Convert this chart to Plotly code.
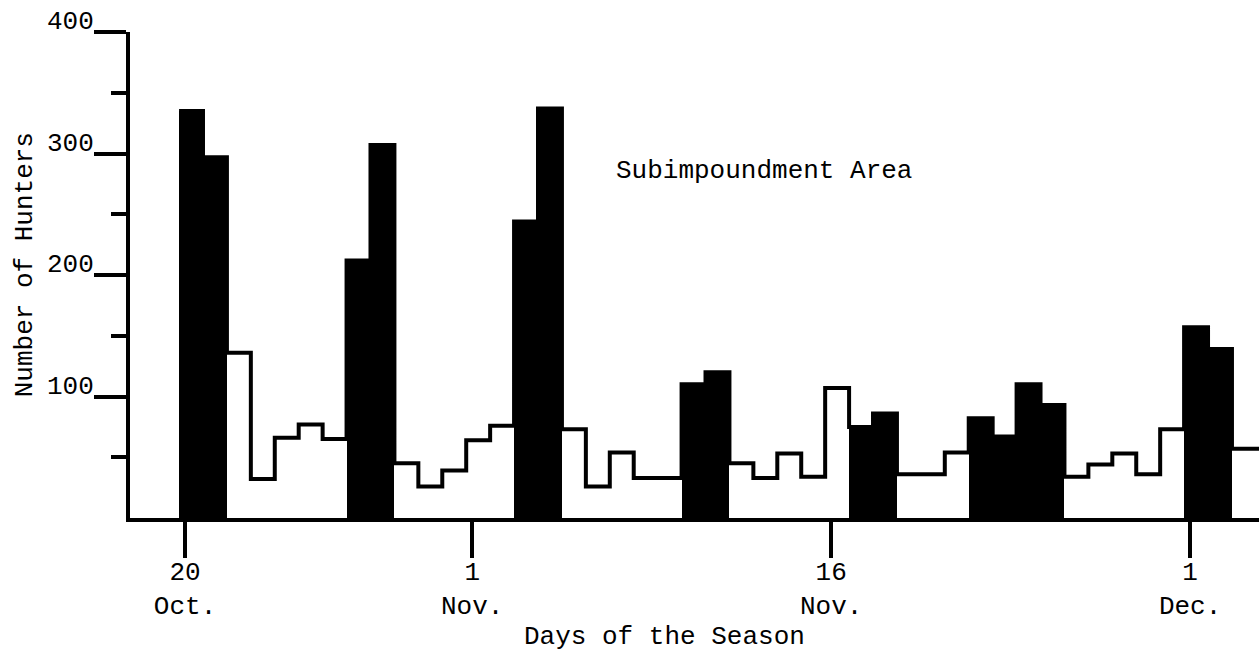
import plotly.graph_objects as go

# ---- data ----
dates = ["Oct 20", "Oct 21", "Oct 22", "Oct 23", "Oct 24", "Oct 25", "Oct 26",
         "Oct 27", "Oct 28", "Oct 29", "Oct 30", "Oct 31", "Nov 1", "Nov 2",
         "Nov 3", "Nov 4", "Nov 5", "Nov 6", "Nov 7", "Nov 8", "Nov 9",
         "Nov 10", "Nov 11", "Nov 12", "Nov 13", "Nov 14", "Nov 15", "Nov 16",
         "Nov 17", "Nov 18", "Nov 19", "Nov 20", "Nov 21", "Nov 22", "Nov 23",
         "Nov 24", "Nov 25", "Nov 26", "Nov 27", "Nov 28", "Nov 29", "Nov 30",
         "Dec 1", "Dec 2", "Dec 3"]
hunters = [335, 297, 136, 32, 66, 77, 65,
           212, 307, 45, 26, 39, 64, 76,
           244, 337, 73, 26, 54, 33, 33,
           110, 120, 45, 33, 53, 34, 107,
           75, 86, 36, 36, 54, 82, 67,
           110, 93, 34, 44, 53, 36, 73,
           157, 139, 57]
# weekend / holiday days (drawn as solid black bars)
peak_days = ["Oct 20", "Oct 21", "Oct 27", "Oct 28", "Nov 3", "Nov 4",
             "Nov 10", "Nov 11", "Nov 17", "Nov 18", "Nov 22", "Nov 23",
             "Nov 24", "Nov 25", "Dec 1", "Dec 2"]

x_tick_days = ["Oct 20", "Nov 1", "Nov 16", "Dec 1"]
x_tick_text = ["20<br>Oct.", "1<br>Nov.", "16<br>Nov.", "1<br>Dec."]
y_major = [100, 200, 300, 400]
y_minor = [50, 150, 250, 350]

FONT = "Liberation Mono, DejaVu Sans Mono, monospace"

day_index = list(range(len(dates)))
peak_idx = [dates.index(d) for d in peak_days]
peak_val = [hunters[i] for i in peak_idx]

fig = go.Figure()

# solid bars for weekend/holiday days
fig.add_trace(go.Bar(
    x=peak_idx, y=peak_val, width=1, offset=-0.25,
    marker=dict(color="black", line=dict(width=0)),
    showlegend=False, hoverinfo="skip",
))

# outlined step for all days
step_x = [i - 0.25 for i in day_index] + [len(dates) + 0.75]
step_y = hunters + [hunters[-1]]
fig.add_trace(go.Scatter(
    x=step_x, y=step_y, mode="lines", line=dict(shape="hv", color="black", width=4),
    showlegend=False, hoverinfo="skip",
))

fig.add_annotation(x=24.2, y=286, xref="x", yref="y", text="Subimpoundment Area",
                   showarrow=False, font=dict(family=FONT, size=26, color="black"))
fig.add_annotation(x=0.473, y=-0.245, xref="paper", yref="paper", text="Days of the Season",
                   xanchor="center", yanchor="middle",
                   showarrow=False, font=dict(family=FONT, size=26, color="black"))
fig.add_annotation(x=-0.093, y=0.52, xref="paper", yref="paper", text="Number of Hunters",
                   textangle=-90, xanchor="center", yanchor="middle", showarrow=False,
                   font=dict(family=FONT, size=26, color="black"))

fig.update_layout(
    width=1259, height=652, autosize=False,
    margin=dict(l=130, r=0, t=32, b=134),
    paper_bgcolor="white", plot_bgcolor="white",
    font=dict(family=FONT, size=26, color="black"),
    bargap=0,
)
fig.update_xaxes(
    range=[-2.30, 44.88], showgrid=False, zeroline=False,
    showline=True, linewidth=4, linecolor="black",
    tickmode="array", tickvals=[dates.index(d) for d in x_tick_days], ticktext=x_tick_text,
    ticks="outside", ticklen=36, tickwidth=4, tickcolor="black",
    ticklabelstandoff=-9, tickfont=dict(family=FONT, size=26, color="black"),
)
fig.update_yaxes(
    range=[0, 400], showgrid=False, zeroline=False,
    showline=True, linewidth=4, linecolor="black",
    tickmode="array", tickvals=y_major, ticktext=[str(v) for v in y_major],
    ticks="outside", ticklen=32, tickwidth=4, tickcolor="black",
    ticklabelshift=-12, ticklabelstandoff=-5,
    tickfont=dict(family=FONT, size=26, color="black"),
    minor=dict(tickmode="array", tickvals=y_minor, ticks="outside",
               ticklen=15, tickwidth=4, tickcolor="black", showgrid=False),
)

fig.write_html("out.html", config={"displayModeBar": False},
               post_script="document.body.style.margin='0';")
